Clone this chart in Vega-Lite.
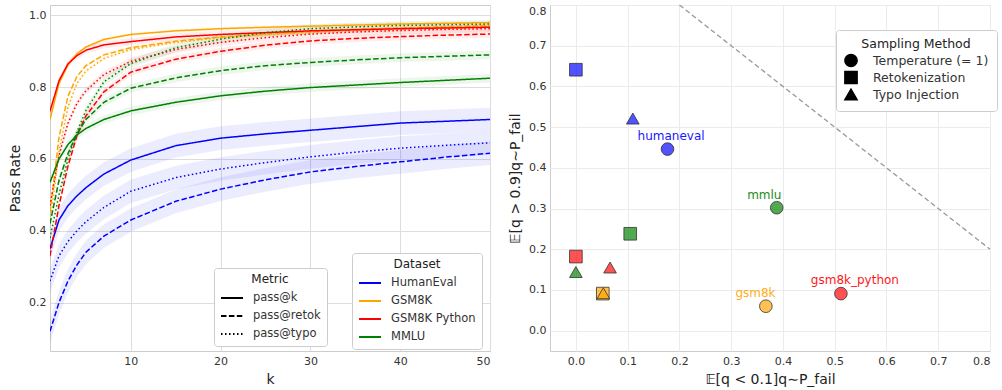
{
 "$schema": "https://vega.github.io/schema/vega-lite/v6.json",
 "padding": {"left": 8, "top": 1, "right": 0, "bottom": 0},
 "bounds": "flush",
 "spacing": 60,
 "config": {
  "font": "DejaVu Sans",
  "view": {"stroke": "#cccccc", "strokeWidth": 1},
  "axis": {"labelFontSize": 11, "labelColor": "#333333", "titleFontSize": 14, "titleColor": "#222222", "titleFontWeight": "normal", "ticks": false, "domain": false, "labelPadding": 4, "gridWidth": 1},
  "legend": {"titleFontWeight": "normal", "titleFontSize": 12, "labelFontSize": 11.5, "labelColor": "#333333", "titleColor": "#222222", "fillColor": "white", "strokeColor": "#cccccc", "cornerRadius": 3, "padding": 6, "titleAnchor": "middle", "titlePadding": 0, "rowPadding": -5.2, "labelOffset": 9}
 },
 "datasets": {
  "curves": [
   {"d":"HumanEval","m":"pass@k","k":1,"v":0.35,"lo":0.317,"hi":0.383},
   {"d":"HumanEval","m":"pass@k","k":2,"v":0.43,"lo":0.397,"hi":0.463},
   {"d":"HumanEval","m":"pass@k","k":3,"v":0.47,"lo":0.437,"hi":0.503},
   {"d":"HumanEval","m":"pass@k","k":4,"v":0.497,"lo":0.464,"hi":0.53},
   {"d":"HumanEval","m":"pass@k","k":5,"v":0.52,"lo":0.487,"hi":0.553},
   {"d":"HumanEval","m":"pass@k","k":7,"v":0.558,"lo":0.525,"hi":0.591},
   {"d":"HumanEval","m":"pass@k","k":10,"v":0.597,"lo":0.564,"hi":0.63},
   {"d":"HumanEval","m":"pass@k","k":15,"v":0.637,"lo":0.604,"hi":0.67},
   {"d":"HumanEval","m":"pass@k","k":20,"v":0.658,"lo":0.625,"hi":0.691},
   {"d":"HumanEval","m":"pass@k","k":25,"v":0.67,"lo":0.637,"hi":0.703},
   {"d":"HumanEval","m":"pass@k","k":30,"v":0.68,"lo":0.647,"hi":0.713},
   {"d":"HumanEval","m":"pass@k","k":35,"v":0.69,"lo":0.657,"hi":0.723},
   {"d":"HumanEval","m":"pass@k","k":40,"v":0.7,"lo":0.667,"hi":0.733},
   {"d":"HumanEval","m":"pass@k","k":45,"v":0.705,"lo":0.672,"hi":0.738},
   {"d":"HumanEval","m":"pass@k","k":50,"v":0.71,"lo":0.677,"hi":0.743},
   {"d":"HumanEval","m":"pass@retok","k":1,"v":0.12,"lo":0.087,"hi":0.153},
   {"d":"HumanEval","m":"pass@retok","k":2,"v":0.2,"lo":0.167,"hi":0.233},
   {"d":"HumanEval","m":"pass@retok","k":3,"v":0.26,"lo":0.227,"hi":0.293},
   {"d":"HumanEval","m":"pass@retok","k":4,"v":0.305,"lo":0.272,"hi":0.338},
   {"d":"HumanEval","m":"pass@retok","k":5,"v":0.34,"lo":0.307,"hi":0.373},
   {"d":"HumanEval","m":"pass@retok","k":7,"v":0.385,"lo":0.352,"hi":0.418},
   {"d":"HumanEval","m":"pass@retok","k":10,"v":0.43,"lo":0.397,"hi":0.463},
   {"d":"HumanEval","m":"pass@retok","k":15,"v":0.482,"lo":0.449,"hi":0.515},
   {"d":"HumanEval","m":"pass@retok","k":20,"v":0.516,"lo":0.483,"hi":0.549},
   {"d":"HumanEval","m":"pass@retok","k":25,"v":0.542,"lo":0.509,"hi":0.575},
   {"d":"HumanEval","m":"pass@retok","k":30,"v":0.564,"lo":0.531,"hi":0.597},
   {"d":"HumanEval","m":"pass@retok","k":35,"v":0.579,"lo":0.546,"hi":0.612},
   {"d":"HumanEval","m":"pass@retok","k":40,"v":0.592,"lo":0.559,"hi":0.625},
   {"d":"HumanEval","m":"pass@retok","k":45,"v":0.605,"lo":0.572,"hi":0.638},
   {"d":"HumanEval","m":"pass@retok","k":50,"v":0.616,"lo":0.583,"hi":0.649},
   {"d":"HumanEval","m":"pass@typo","k":1,"v":0.26,"lo":0.227,"hi":0.293},
   {"d":"HumanEval","m":"pass@typo","k":2,"v":0.33,"lo":0.297,"hi":0.363},
   {"d":"HumanEval","m":"pass@typo","k":3,"v":0.37,"lo":0.337,"hi":0.403},
   {"d":"HumanEval","m":"pass@typo","k":4,"v":0.4,"lo":0.367,"hi":0.433},
   {"d":"HumanEval","m":"pass@typo","k":5,"v":0.425,"lo":0.392,"hi":0.458},
   {"d":"HumanEval","m":"pass@typo","k":7,"v":0.465,"lo":0.432,"hi":0.498},
   {"d":"HumanEval","m":"pass@typo","k":10,"v":0.51,"lo":0.477,"hi":0.543},
   {"d":"HumanEval","m":"pass@typo","k":15,"v":0.548,"lo":0.515,"hi":0.581},
   {"d":"HumanEval","m":"pass@typo","k":20,"v":0.572,"lo":0.539,"hi":0.605},
   {"d":"HumanEval","m":"pass@typo","k":25,"v":0.59,"lo":0.557,"hi":0.623},
   {"d":"HumanEval","m":"pass@typo","k":30,"v":0.606,"lo":0.573,"hi":0.639},
   {"d":"HumanEval","m":"pass@typo","k":35,"v":0.619,"lo":0.586,"hi":0.652},
   {"d":"HumanEval","m":"pass@typo","k":40,"v":0.63,"lo":0.597,"hi":0.663},
   {"d":"HumanEval","m":"pass@typo","k":45,"v":0.638,"lo":0.605,"hi":0.671},
   {"d":"HumanEval","m":"pass@typo","k":50,"v":0.645,"lo":0.612,"hi":0.678},
   {"d":"GSM8K","m":"pass@k","k":1,"v":0.71,"lo":0.705,"hi":0.715},
   {"d":"GSM8K","m":"pass@k","k":2,"v":0.81,"lo":0.805,"hi":0.815},
   {"d":"GSM8K","m":"pass@k","k":3,"v":0.862,"lo":0.857,"hi":0.867},
   {"d":"GSM8K","m":"pass@k","k":4,"v":0.893,"lo":0.888,"hi":0.898},
   {"d":"GSM8K","m":"pass@k","k":5,"v":0.912,"lo":0.907,"hi":0.917},
   {"d":"GSM8K","m":"pass@k","k":7,"v":0.933,"lo":0.928,"hi":0.938},
   {"d":"GSM8K","m":"pass@k","k":10,"v":0.947,"lo":0.942,"hi":0.952},
   {"d":"GSM8K","m":"pass@k","k":15,"v":0.957,"lo":0.952,"hi":0.962},
   {"d":"GSM8K","m":"pass@k","k":20,"v":0.963,"lo":0.958,"hi":0.968},
   {"d":"GSM8K","m":"pass@k","k":25,"v":0.967,"lo":0.962,"hi":0.972},
   {"d":"GSM8K","m":"pass@k","k":30,"v":0.97,"lo":0.965,"hi":0.975},
   {"d":"GSM8K","m":"pass@k","k":35,"v":0.973,"lo":0.968,"hi":0.978},
   {"d":"GSM8K","m":"pass@k","k":40,"v":0.976,"lo":0.971,"hi":0.981},
   {"d":"GSM8K","m":"pass@k","k":45,"v":0.978,"lo":0.973,"hi":0.983},
   {"d":"GSM8K","m":"pass@k","k":50,"v":0.98,"lo":0.975,"hi":0.985},
   {"d":"GSM8K","m":"pass@retok","k":1,"v":0.45,"lo":0.445,"hi":0.455},
   {"d":"GSM8K","m":"pass@retok","k":2,"v":0.66,"lo":0.655,"hi":0.665},
   {"d":"GSM8K","m":"pass@retok","k":3,"v":0.775,"lo":0.77,"hi":0.78},
   {"d":"GSM8K","m":"pass@retok","k":4,"v":0.83,"lo":0.825,"hi":0.835},
   {"d":"GSM8K","m":"pass@retok","k":5,"v":0.86,"lo":0.855,"hi":0.865},
   {"d":"GSM8K","m":"pass@retok","k":7,"v":0.89,"lo":0.885,"hi":0.895},
   {"d":"GSM8K","m":"pass@retok","k":10,"v":0.91,"lo":0.905,"hi":0.915},
   {"d":"GSM8K","m":"pass@retok","k":15,"v":0.928,"lo":0.923,"hi":0.933},
   {"d":"GSM8K","m":"pass@retok","k":20,"v":0.94,"lo":0.935,"hi":0.945},
   {"d":"GSM8K","m":"pass@retok","k":25,"v":0.948,"lo":0.943,"hi":0.953},
   {"d":"GSM8K","m":"pass@retok","k":30,"v":0.955,"lo":0.95,"hi":0.96},
   {"d":"GSM8K","m":"pass@retok","k":35,"v":0.96,"lo":0.955,"hi":0.965},
   {"d":"GSM8K","m":"pass@retok","k":40,"v":0.965,"lo":0.96,"hi":0.97},
   {"d":"GSM8K","m":"pass@retok","k":45,"v":0.968,"lo":0.963,"hi":0.973},
   {"d":"GSM8K","m":"pass@retok","k":50,"v":0.972,"lo":0.967,"hi":0.977},
   {"d":"GSM8K","m":"pass@typo","k":1,"v":0.42,"lo":0.415,"hi":0.425},
   {"d":"GSM8K","m":"pass@typo","k":2,"v":0.62,"lo":0.615,"hi":0.625},
   {"d":"GSM8K","m":"pass@typo","k":3,"v":0.745,"lo":0.74,"hi":0.75},
   {"d":"GSM8K","m":"pass@typo","k":4,"v":0.81,"lo":0.805,"hi":0.815},
   {"d":"GSM8K","m":"pass@typo","k":5,"v":0.845,"lo":0.84,"hi":0.85},
   {"d":"GSM8K","m":"pass@typo","k":7,"v":0.88,"lo":0.875,"hi":0.885},
   {"d":"GSM8K","m":"pass@typo","k":10,"v":0.905,"lo":0.9,"hi":0.91},
   {"d":"GSM8K","m":"pass@typo","k":15,"v":0.925,"lo":0.92,"hi":0.93},
   {"d":"GSM8K","m":"pass@typo","k":20,"v":0.938,"lo":0.933,"hi":0.943},
   {"d":"GSM8K","m":"pass@typo","k":25,"v":0.946,"lo":0.941,"hi":0.951},
   {"d":"GSM8K","m":"pass@typo","k":30,"v":0.953,"lo":0.948,"hi":0.958},
   {"d":"GSM8K","m":"pass@typo","k":35,"v":0.959,"lo":0.954,"hi":0.964},
   {"d":"GSM8K","m":"pass@typo","k":40,"v":0.963,"lo":0.958,"hi":0.968},
   {"d":"GSM8K","m":"pass@typo","k":45,"v":0.967,"lo":0.962,"hi":0.972},
   {"d":"GSM8K","m":"pass@typo","k":50,"v":0.97,"lo":0.965,"hi":0.975},
   {"d":"GSM8K Python","m":"pass@k","k":1,"v":0.733,"lo":0.723,"hi":0.743},
   {"d":"GSM8K Python","m":"pass@k","k":2,"v":0.818,"lo":0.808,"hi":0.828},
   {"d":"GSM8K Python","m":"pass@k","k":3,"v":0.865,"lo":0.855,"hi":0.875},
   {"d":"GSM8K Python","m":"pass@k","k":4,"v":0.888,"lo":0.878,"hi":0.898},
   {"d":"GSM8K Python","m":"pass@k","k":5,"v":0.903,"lo":0.893,"hi":0.913},
   {"d":"GSM8K Python","m":"pass@k","k":7,"v":0.918,"lo":0.908,"hi":0.928},
   {"d":"GSM8K Python","m":"pass@k","k":10,"v":0.927,"lo":0.917,"hi":0.937},
   {"d":"GSM8K Python","m":"pass@k","k":15,"v":0.94,"lo":0.93,"hi":0.95},
   {"d":"GSM8K Python","m":"pass@k","k":20,"v":0.947,"lo":0.937,"hi":0.957},
   {"d":"GSM8K Python","m":"pass@k","k":25,"v":0.952,"lo":0.942,"hi":0.962},
   {"d":"GSM8K Python","m":"pass@k","k":30,"v":0.957,"lo":0.947,"hi":0.967},
   {"d":"GSM8K Python","m":"pass@k","k":35,"v":0.96,"lo":0.95,"hi":0.97},
   {"d":"GSM8K Python","m":"pass@k","k":40,"v":0.963,"lo":0.953,"hi":0.973},
   {"d":"GSM8K Python","m":"pass@k","k":45,"v":0.965,"lo":0.955,"hi":0.975},
   {"d":"GSM8K Python","m":"pass@k","k":50,"v":0.967,"lo":0.957,"hi":0.977},
   {"d":"GSM8K Python","m":"pass@retok","k":1,"v":0.33,"lo":0.32,"hi":0.34},
   {"d":"GSM8K Python","m":"pass@retok","k":2,"v":0.47,"lo":0.46,"hi":0.48},
   {"d":"GSM8K Python","m":"pass@retok","k":3,"v":0.58,"lo":0.57,"hi":0.59},
   {"d":"GSM8K Python","m":"pass@retok","k":4,"v":0.665,"lo":0.655,"hi":0.675},
   {"d":"GSM8K Python","m":"pass@retok","k":5,"v":0.72,"lo":0.71,"hi":0.73},
   {"d":"GSM8K Python","m":"pass@retok","k":7,"v":0.787,"lo":0.777,"hi":0.797},
   {"d":"GSM8K Python","m":"pass@retok","k":10,"v":0.842,"lo":0.832,"hi":0.852},
   {"d":"GSM8K Python","m":"pass@retok","k":15,"v":0.878,"lo":0.868,"hi":0.888},
   {"d":"GSM8K Python","m":"pass@retok","k":20,"v":0.9,"lo":0.89,"hi":0.91},
   {"d":"GSM8K Python","m":"pass@retok","k":25,"v":0.917,"lo":0.907,"hi":0.927},
   {"d":"GSM8K Python","m":"pass@retok","k":30,"v":0.929,"lo":0.919,"hi":0.939},
   {"d":"GSM8K Python","m":"pass@retok","k":35,"v":0.936,"lo":0.926,"hi":0.946},
   {"d":"GSM8K Python","m":"pass@retok","k":40,"v":0.941,"lo":0.931,"hi":0.951},
   {"d":"GSM8K Python","m":"pass@retok","k":45,"v":0.945,"lo":0.935,"hi":0.955},
   {"d":"GSM8K Python","m":"pass@retok","k":50,"v":0.948,"lo":0.938,"hi":0.958},
   {"d":"GSM8K Python","m":"pass@typo","k":1,"v":0.47,"lo":0.46,"hi":0.48},
   {"d":"GSM8K Python","m":"pass@typo","k":2,"v":0.61,"lo":0.6,"hi":0.62},
   {"d":"GSM8K Python","m":"pass@typo","k":3,"v":0.7,"lo":0.69,"hi":0.71},
   {"d":"GSM8K Python","m":"pass@typo","k":4,"v":0.755,"lo":0.745,"hi":0.765},
   {"d":"GSM8K Python","m":"pass@typo","k":5,"v":0.79,"lo":0.78,"hi":0.8},
   {"d":"GSM8K Python","m":"pass@typo","k":7,"v":0.835,"lo":0.825,"hi":0.845},
   {"d":"GSM8K Python","m":"pass@typo","k":10,"v":0.872,"lo":0.862,"hi":0.882},
   {"d":"GSM8K Python","m":"pass@typo","k":15,"v":0.905,"lo":0.895,"hi":0.915},
   {"d":"GSM8K Python","m":"pass@typo","k":20,"v":0.925,"lo":0.915,"hi":0.935},
   {"d":"GSM8K Python","m":"pass@typo","k":25,"v":0.938,"lo":0.928,"hi":0.948},
   {"d":"GSM8K Python","m":"pass@typo","k":30,"v":0.948,"lo":0.938,"hi":0.958},
   {"d":"GSM8K Python","m":"pass@typo","k":35,"v":0.954,"lo":0.944,"hi":0.964},
   {"d":"GSM8K Python","m":"pass@typo","k":40,"v":0.958,"lo":0.948,"hi":0.968},
   {"d":"GSM8K Python","m":"pass@typo","k":45,"v":0.961,"lo":0.951,"hi":0.971},
   {"d":"GSM8K Python","m":"pass@typo","k":50,"v":0.963,"lo":0.953,"hi":0.973},
   {"d":"MMLU","m":"pass@k","k":1,"v":0.535,"lo":0.523,"hi":0.547},
   {"d":"MMLU","m":"pass@k","k":2,"v":0.6,"lo":0.588,"hi":0.612},
   {"d":"MMLU","m":"pass@k","k":3,"v":0.64,"lo":0.628,"hi":0.652},
   {"d":"MMLU","m":"pass@k","k":4,"v":0.667,"lo":0.655,"hi":0.679},
   {"d":"MMLU","m":"pass@k","k":5,"v":0.685,"lo":0.673,"hi":0.697},
   {"d":"MMLU","m":"pass@k","k":7,"v":0.71,"lo":0.698,"hi":0.722},
   {"d":"MMLU","m":"pass@k","k":10,"v":0.734,"lo":0.722,"hi":0.746},
   {"d":"MMLU","m":"pass@k","k":15,"v":0.758,"lo":0.746,"hi":0.77},
   {"d":"MMLU","m":"pass@k","k":20,"v":0.776,"lo":0.764,"hi":0.788},
   {"d":"MMLU","m":"pass@k","k":25,"v":0.789,"lo":0.777,"hi":0.801},
   {"d":"MMLU","m":"pass@k","k":30,"v":0.799,"lo":0.787,"hi":0.811},
   {"d":"MMLU","m":"pass@k","k":35,"v":0.806,"lo":0.794,"hi":0.818},
   {"d":"MMLU","m":"pass@k","k":40,"v":0.813,"lo":0.801,"hi":0.825},
   {"d":"MMLU","m":"pass@k","k":45,"v":0.819,"lo":0.807,"hi":0.831},
   {"d":"MMLU","m":"pass@k","k":50,"v":0.825,"lo":0.813,"hi":0.837},
   {"d":"MMLU","m":"pass@retok","k":1,"v":0.42,"lo":0.408,"hi":0.432},
   {"d":"MMLU","m":"pass@retok","k":2,"v":0.54,"lo":0.528,"hi":0.552},
   {"d":"MMLU","m":"pass@retok","k":3,"v":0.615,"lo":0.603,"hi":0.627},
   {"d":"MMLU","m":"pass@retok","k":4,"v":0.67,"lo":0.658,"hi":0.682},
   {"d":"MMLU","m":"pass@retok","k":5,"v":0.71,"lo":0.698,"hi":0.722},
   {"d":"MMLU","m":"pass@retok","k":7,"v":0.758,"lo":0.746,"hi":0.77},
   {"d":"MMLU","m":"pass@retok","k":10,"v":0.797,"lo":0.785,"hi":0.809},
   {"d":"MMLU","m":"pass@retok","k":15,"v":0.826,"lo":0.814,"hi":0.838},
   {"d":"MMLU","m":"pass@retok","k":20,"v":0.846,"lo":0.834,"hi":0.858},
   {"d":"MMLU","m":"pass@retok","k":25,"v":0.86,"lo":0.848,"hi":0.872},
   {"d":"MMLU","m":"pass@retok","k":30,"v":0.869,"lo":0.857,"hi":0.881},
   {"d":"MMLU","m":"pass@retok","k":35,"v":0.876,"lo":0.864,"hi":0.888},
   {"d":"MMLU","m":"pass@retok","k":40,"v":0.882,"lo":0.87,"hi":0.894},
   {"d":"MMLU","m":"pass@retok","k":45,"v":0.886,"lo":0.874,"hi":0.898},
   {"d":"MMLU","m":"pass@retok","k":50,"v":0.89,"lo":0.878,"hi":0.902},
   {"d":"MMLU","m":"pass@typo","k":1,"v":0.38,"lo":0.368,"hi":0.392},
   {"d":"MMLU","m":"pass@typo","k":2,"v":0.5,"lo":0.488,"hi":0.512},
   {"d":"MMLU","m":"pass@typo","k":3,"v":0.6,"lo":0.588,"hi":0.612},
   {"d":"MMLU","m":"pass@typo","k":4,"v":0.675,"lo":0.663,"hi":0.687},
   {"d":"MMLU","m":"pass@typo","k":5,"v":0.735,"lo":0.723,"hi":0.747},
   {"d":"MMLU","m":"pass@typo","k":7,"v":0.815,"lo":0.803,"hi":0.827},
   {"d":"MMLU","m":"pass@typo","k":10,"v":0.866,"lo":0.854,"hi":0.878},
   {"d":"MMLU","m":"pass@typo","k":15,"v":0.91,"lo":0.898,"hi":0.922},
   {"d":"MMLU","m":"pass@typo","k":20,"v":0.934,"lo":0.922,"hi":0.946},
   {"d":"MMLU","m":"pass@typo","k":25,"v":0.952,"lo":0.94,"hi":0.964},
   {"d":"MMLU","m":"pass@typo","k":30,"v":0.963,"lo":0.951,"hi":0.975},
   {"d":"MMLU","m":"pass@typo","k":35,"v":0.968,"lo":0.956,"hi":0.98},
   {"d":"MMLU","m":"pass@typo","k":40,"v":0.972,"lo":0.96,"hi":0.984},
   {"d":"MMLU","m":"pass@typo","k":45,"v":0.974,"lo":0.962,"hi":0.986},
   {"d":"MMLU","m":"pass@typo","k":50,"v":0.976,"lo":0.964,"hi":0.988}
  ],
  "pts": [
   {"ds":"humaneval","method":"Temperature (= 1)","x":0.177,"y":0.446},
   {"ds":"humaneval","method":"Retokenization","x":0.0,"y":0.641},
   {"ds":"humaneval","method":"Typo Injection","x":0.11,"y":0.521},
   {"ds":"mmlu","method":"Temperature (= 1)","x":0.388,"y":0.302},
   {"ds":"mmlu","method":"Retokenization","x":0.105,"y":0.238},
   {"ds":"mmlu","method":"Typo Injection","x":0.0,"y":0.144},
   {"ds":"gsm8k_python","method":"Temperature (= 1)","x":0.512,"y":0.091},
   {"ds":"gsm8k_python","method":"Retokenization","x":0.0,"y":0.182},
   {"ds":"gsm8k_python","method":"Typo Injection","x":0.066,"y":0.155},
   {"ds":"gsm8k","method":"Temperature (= 1)","x":0.367,"y":0.06},
   {"ds":"gsm8k","method":"Retokenization","x":0.052,"y":0.091},
   {"ds":"gsm8k","method":"Typo Injection","x":0.053,"y":0.092}
  ],
  "labels": [
   {"ds":"humaneval","lx":0.184,"ly":0.479},
   {"ds":"mmlu","lx":0.364,"ly":0.334},
   {"ds":"gsm8k","lx":0.347,"ly":0.0914},
   {"ds":"gsm8k_python","lx":0.539,"ly":0.124}
  ],
  "diag": [{"x":0.2,"y":0.8},{"x":0.8,"y":0.2}]
 },
 "hconcat": [
  {
   "width": 440, "height": 346,
   "data": {"name": "curves"},
   "layer": [
    {
     "mark": {"type": "area", "clip": true, "fillOpacity": 0.075},
     "encoding": {
      "x": {"field": "k", "type": "quantitative", "scale": {"domain": [1, 50], "nice": false, "zero": false}},
      "y": {"field": "lo", "type": "quantitative", "scale": {"domain": [0.065, 1.029], "nice": false, "zero": false}},
      "y2": {"field": "hi"},
      "fill": {"field": "d", "type": "nominal", "legend": null, "scale": {"domain": ["MMLU", "GSM8K Python", "GSM8K", "HumanEval"], "range": ["#008000", "#ff0000", "#ffa500", "#0000ff"]}},
      "detail": {"field": "m"}
     }
    },
    {
     "mark": {"type": "line", "clip": true, "strokeWidth": 1.5},
     "encoding": {
      "x": {"field": "k", "type": "quantitative", "axis": {"values": [10, 20, 30, 40, 50], "title": "k", "gridColor": "#dddddd", "titlePadding": 6}},
      "y": {"field": "v", "type": "quantitative", "axis": {"values": [0.2, 0.4, 0.6, 0.8, 1.0], "format": ".1f", "title": "Pass Rate", "gridColor": "#dddddd", "titlePadding": 6}},
      "stroke": {"field": "d", "type": "nominal", "scale": {"domain": ["HumanEval", "GSM8K", "GSM8K Python", "MMLU"], "range": ["#0000ff", "#ffa500", "#ff0000", "#008000"]},
       "legend": {"title": "Dataset", "orient": "none", "legendX": 302, "legendY": 248, "symbolType": "stroke", "symbolSize": 484, "symbolStrokeWidth": 2}},
      "strokeDash": {"field": "m", "type": "nominal", "scale": {"domain": ["pass@k", "pass@retok", "pass@typo"], "range": [[1, 0], [5.5, 2.4], [1.5, 2.5]]},
       "legend": {"title": "Metric", "orient": "none", "legendX": 164, "legendY": 263, "symbolType": "stroke", "symbolSize": 484, "symbolStrokeWidth": 2, "symbolStrokeColor": "black"}}
     }
    }
   ]
  },
  {
   "width": 440, "height": 346,
   "layer": [
    {
     "data": {"name": "diag"},
     "mark": {"type": "line", "color": "#999999", "strokeDash": [5, 3], "strokeWidth": 1.3},
     "encoding": {
      "x": {"field": "x", "type": "quantitative", "scale": {"domain": [-0.05, 0.8], "nice": false, "zero": false},
       "axis": {"values": [0, 0.1, 0.2, 0.3, 0.4, 0.5, 0.6, 0.7, 0.8], "format": ".1f", "title": "𝔼[q < 0.1]q∼P_fail", "gridColor": "#ebebeb", "titlePadding": 6}},
      "y": {"field": "y", "type": "quantitative", "scale": {"domain": [-0.05, 0.8], "nice": false, "zero": false},
       "axis": {"values": [0, 0.1, 0.2, 0.3, 0.4, 0.5, 0.6, 0.7, 0.8], "format": ".1f", "title": "𝔼[q > 0.9]q∼P_fail", "gridColor": "#ebebeb", "titlePadding": 6, "labelFlush": true}}
     }
    },
    {
     "data": {"name": "pts"},
     "mark": {"type": "point", "filled": true, "size": 160, "stroke": "#333333", "strokeWidth": 1, "fillOpacity": 0.68, "strokeOpacity": 0.8},
     "encoding": {
      "x": {"field": "x", "type": "quantitative"},
      "y": {"field": "y", "type": "quantitative"},
      "fill": {"field": "ds", "type": "nominal", "legend": null, "scale": {"domain": ["humaneval", "gsm8k", "gsm8k_python", "mmlu"], "range": ["#0000ff", "#ffa500", "#ff0000", "#008000"]}},
      "shape": {"field": "method", "type": "nominal", "scale": {"domain": ["Temperature (= 1)", "Retokenization", "Typo Injection"], "range": ["circle", "square", "triangle-up"]},
       "legend": {"title": "Sampling Method", "orient": "none", "legendX": 286, "legendY": 25, "symbolFillColor": "black", "symbolStrokeColor": "black", "symbolOpacity": 1, "symbolSize": 150, "rowPadding": -3, "titlePadding": 3, "padding": 8, "labelOffset": 15, "labelFontSize": 12.5, "titleFontSize": 12.5}}
     }
    },
    {
     "data": {"name": "labels"},
     "mark": {"type": "text", "fontSize": 12, "align": "center", "baseline": "middle", "opacity": 0.9},
     "encoding": {
      "x": {"field": "lx", "type": "quantitative"},
      "y": {"field": "ly", "type": "quantitative"},
      "text": {"field": "ds"},
      "color": {"field": "ds", "type": "nominal", "legend": null, "scale": {"domain": ["mmlu", "gsm8k_python", "gsm8k", "humaneval"], "range": ["#008000", "#ff0000", "#ffa500", "#0000ff"]}}
     }
    }
   ]
  }
 ],
 "resolve": {"scale": {"x": "independent", "y": "independent", "color": "independent", "fill": "independent", "stroke": "independent", "shape": "independent", "strokeDash": "independent"},
  "legend": {"color": "independent", "fill": "independent", "stroke": "independent", "shape": "independent", "strokeDash": "independent"}}
}
